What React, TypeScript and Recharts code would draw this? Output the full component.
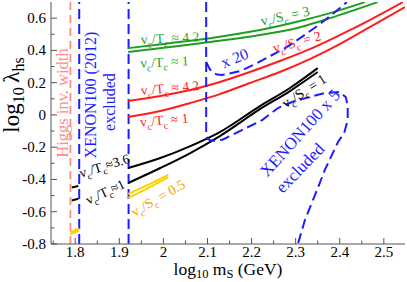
import React from 'react';
import { LineChart, Line, XAxis, YAxis, ReferenceLine, ReferenceDot, Label } from 'recharts';

type Pt = { x: number; y: number };
const pts = (a: number[][]): Pt[] => a.map(([x, y]) => ({ x, y }));

// axis ticks
const xMajor = [1.8, 1.9, 2.0, 2.1, 2.2, 2.3, 2.4, 2.5];
const xMinor = [1.75, 1.85, 1.95, 2.05, 2.15, 2.25, 2.35, 2.45];
const yMajor = [-0.8, -0.6, -0.4, -0.2, 0, 0.2, 0.4, 0.6];
const yMinor = [-0.7, -0.5, -0.3, -0.1, 0.1, 0.3, 0.5];

// vertical bounds
const higgsWidthX = 1.789;
const xenon2012X = [1.809, 1.921];

// v_c/T_c curves (green: v_c/S_c = 3, red: 2, black: 1, yellow: 0.5)
const greenTc42 = pts([[1.92, 0.414], [2.015, 0.445], [2.106, 0.476], [2.219, 0.526], [2.31, 0.582], [2.378, 0.631], [2.457, 0.699]]);
const greenTc1 = pts([[1.92, 0.39], [2.015, 0.421], [2.106, 0.452], [2.219, 0.495], [2.31, 0.544], [2.378, 0.6], [2.486, 0.699]]);
const redTc42 = pts([[1.92, 0.086], [1.993, 0.117], [2.061, 0.154], [2.128, 0.204], [2.196, 0.266], [2.264, 0.334], [2.332, 0.408], [2.4, 0.495], [2.468, 0.588], [2.543, 0.699]]);
const redTc1 = pts([[1.92, -0.013], [1.993, 0.024], [2.061, 0.074], [2.128, 0.129], [2.196, 0.198], [2.264, 0.266], [2.332, 0.346], [2.4, 0.439], [2.468, 0.544], [2.548, 0.668]]);
const blackTc36 = pts([[1.92, -0.329], [1.993, -0.267], [2.061, -0.193], [2.128, -0.106], [2.219, 0.055], [2.287, 0.167], [2.35, 0.29]]);
const blackTc1 = pts([[1.92, -0.422], [1.993, -0.329], [2.061, -0.236], [2.128, -0.131], [2.219, 0.036], [2.287, 0.148], [2.35, 0.266]]);
const blackTc36Left = pts([[1.792, -0.45], [1.807, -0.44]]);
const blackTc1Left = pts([[1.792, -0.53], [1.807, -0.52]]);
const yellowUpper = pts([[1.92, -0.49], [1.965, -0.434], [2.011, -0.372]]);
const yellowLower = pts([[1.92, -0.515], [1.965, -0.453], [2.011, -0.385]]);
const yellowLeftA = pts([[1.789, -0.74], [1.809, -0.715]]);
const yellowLeftB = pts([[1.789, -0.727], [1.809, -0.703]]);

// XENON100 x 5 and x 20 contours
const xenonX5 = pts([[2.097, 0.7], [2.097, -0.125], [2.1, -0.148], [2.108, -0.158], [2.12, -0.16], [2.135, -0.152], [2.178, -0.094], [2.224, -0.032], [2.26, 0.043], [2.296, 0.085], [2.332, 0.111], [2.366, 0.136], [2.4, 0.142], [2.414, 0.11], [2.418, 0.05], [2.418, -0.032], [2.41, -0.112], [2.396, -0.168], [2.366, -0.342], [2.344, -0.496], [2.321, -0.651], [2.305, -0.8]]);
const xenonX20 = pts([[2.097, 0.328], [2.104, 0.29], [2.11, 0.266], [2.122, 0.25], [2.133, 0.247], [2.174, 0.272], [2.208, 0.315], [2.242, 0.365], [2.276, 0.414], [2.31, 0.476], [2.355, 0.563], [2.389, 0.637], [2.416, 0.699]]);

const serif = 'Liberation Serif, Times New Roman, serif';
const axisColor = '#555';
const GREEN = '#1f9f1f';
const RED = '#ff1c1c';
const BLUE = '#1c1cff';
const PINK = '#ff8a8a';
const YELLOW = '#ffd000';
const ORANGE = '#f5a300';

const solid = [
  { id: 'g1', data: greenTc42, color: GREEN },
  { id: 'g2', data: greenTc1, color: GREEN },
  { id: 'r1', data: redTc42, color: RED },
  { id: 'r2', data: redTc1, color: RED },
  { id: 'b1', data: blackTc36, color: '#000' },
  { id: 'b2', data: blackTc1, color: '#000' },
  { id: 'b3', data: blackTc36Left, color: '#000' },
  { id: 'b4', data: blackTc1Left, color: '#000' },
  { id: 'y1', data: yellowUpper, color: YELLOW },
  { id: 'y2', data: yellowLower, color: YELLOW },
  { id: 'y3', data: yellowLeftA, color: YELLOW },
  { id: 'y4', data: yellowLeftB, color: YELLOW },
];

type Note = { x: number; y: number; rot: number; color: string; size: number; text?: string; den?: string; rel?: string };
const notes: Note[] = [
  { x: 1.7705, y: 0.074, rot: -90, color: PINK, size: 16.5, text: 'Higgs inv. width' },
  { x: 1.836, y: 0.123, rot: -90, color: BLUE, size: 16, text: 'XENON100 (2012)' },
  { x: 1.879, y: 0.08, rot: -90, color: BLUE, size: 16, text: 'excluded' },
  { x: 2.015, y: 0.476, rot: -3, color: GREEN, size: 13.5, den: 'T', rel: ' \u2248 4.2' },
  { x: 2.002, y: 0.328, rot: -3, color: GREEN, size: 13.5, den: 'T', rel: ' \u2248 1' },
  { x: 2.015, y: 0.167, rot: -5, color: RED, size: 13.5, den: 'T', rel: ' \u2248 4.2' },
  { x: 2.002, y: -0.032, rot: -5, color: RED, size: 13.5, den: 'T', rel: ' \u2248 1' },
  { x: 2.162, y: 0.352, rot: -22, color: BLUE, size: 16, text: 'x 20' },
  { x: 2.276, y: 0.613, rot: -12, color: GREEN, size: 14, den: 'S', rel: ' = 3' },
  { x: 2.303, y: 0.452, rot: -15, color: RED, size: 14, den: 'S', rel: ' = 2' },
  { x: 2.319, y: 0.148, rot: -33, color: '#000', size: 14, den: 'S', rel: ' = 1' },
  { x: 2.31, y: -0.112, rot: -48, color: BLUE, size: 17, text: 'XENON100 x 5' },
  { x: 2.31, y: -0.329, rot: -46, color: BLUE, size: 17, text: 'excluded' },
  { x: 1.866, y: -0.316, rot: -17, color: '#000', size: 13.5, den: 'T', rel: '\u22483.6' },
  { x: 1.868, y: -0.478, rot: -25, color: '#000', size: 13.5, den: 'T', rel: '\u22481' },
  { x: 1.988, y: -0.515, rot: -30, color: ORANGE, size: 14, den: 'S', rel: ' = 0.5' },
];

const renderNote = (n: Note, cx: number, cy: number) => {
  const sub = n.size * 0.72;
  const d = n.size * 0.3;
  return (
    <text
      x={cx}
      y={cy + n.size * 0.33}
      transform={`rotate(${n.rot}, ${cx}, ${cy})`}
      textAnchor="middle"
      fill={n.color}
      fontSize={n.size}
      style={{ fontFamily: serif }}
    >
      {n.text ? (
        n.text
      ) : (
        <>
          v<tspan dy={d} fontSize={sub}>c</tspan>
          <tspan dy={-d}>/{n.den}</tspan>
          <tspan dy={d} fontSize={sub}>c</tspan>
          <tspan dy={-d}>{n.rel}</tspan>
        </>
      )}
    </text>
  );
};

const isMajor = (v: number, list: number[]) => list.some((m) => Math.abs(m - v) < 1e-6);
const fmt = (v: number) => (Math.abs(v) < 1e-9 ? '0' : Math.abs(v - 2) < 1e-9 ? '2' : v.toFixed(1));

const BottomTick = (props: any) => {
  const { x, y, payload } = props;
  const major = isMajor(payload.value, xMajor);
  return (
    <g>
      <line x1={x} x2={x} y1={y} y2={y - (major ? 6 : 3.5)} stroke={axisColor} />
      {major && (
        <text x={x} y={y + 12.5} textAnchor="middle" fontSize={15} style={{ fontFamily: serif }} fill="#000">
          {fmt(payload.value)}
        </text>
      )}
    </g>
  );
};

const TopTick = (props: any) => {
  const { x, y, payload } = props;
  const major = isMajor(payload.value, xMajor);
  return <line x1={x} x2={x} y1={y} y2={y + (major ? 6 : 3.5)} stroke={axisColor} />;
};

const LeftTick = (props: any) => {
  const { x, y, payload } = props;
  const major = isMajor(payload.value, yMajor);
  return (
    <g>
      <line x1={x} x2={x + (major ? 6 : 3.5)} y1={y} y2={y} stroke={axisColor} />
      {major && (
        <text x={x - 5} y={y + 5} textAnchor="end" fontSize={15} style={{ fontFamily: serif }} fill="#000">
          {fmt(payload.value)}
        </text>
      )}
    </g>
  );
};

const RightTick = (props: any) => {
  const { x, y, payload } = props;
  const major = isMajor(payload.value, yMajor);
  return <line x1={x} x2={x - (major ? 6 : 3.5)} y1={y} y2={y} stroke={axisColor} />;
};

const YTitle = (props: any) => {
  const vb = props.viewBox || { x: 0, y: 2, width: 51, height: 242 };
  const cx = vb.x + 12;
  const cy = vb.y + vb.height / 2 - 28;
  return (
    <text
      x={cx}
      y={cy + 7}
      transform={`rotate(-90, ${cx}, ${cy})`}
      textAnchor="middle"
      fontSize={23}
      style={{ fontFamily: serif }}
      fill="#000"
    >
      log<tspan dy={5} fontSize={16}>10</tspan>
      <tspan dy={-5}>{'\u2009\u03bb'}</tspan>
      <tspan dy={5} fontSize={16}>hs</tspan>
    </text>
  );
};

const XTitle = (props: any) => {
  const vb = props.viewBox || { x: 51, y: 244, width: 354, height: 38 };
  const cx = vb.x + vb.width / 2;
  return (
    <text x={cx} y={vb.y + 31} textAnchor="middle" fontSize={17.5} style={{ fontFamily: serif }} fill="#000">
      log<tspan dy={3} fontSize={12.5}>10</tspan>
      <tspan dy={-3}> m</tspan>
      <tspan dy={3} fontSize={12.5}>S</tspan>
      <tspan dy={-3}> (GeV)</tspan>
    </text>
  );
};

const xTicks = [...xMinor, ...xMajor].sort((a, b) => a - b);
const yTicks = [...yMinor, ...yMajor].sort((a, b) => a - b);
const xDomain = [1.745, 2.548];
const yDomain = [-0.8, 0.7];

export default function App() {
  return (
    <div style={{ position: 'absolute', left: 0, top: 0, background: '#fff', fontFamily: serif }}>
      <LineChart width={407} height={282} margin={{ top: 2, right: 2, left: 0, bottom: 0 }}>
        <XAxis
          xAxisId={0}
          type="number"
          dataKey="x"
          domain={xDomain}
          allowDataOverflow
          ticks={xTicks}
          interval={0}
          tick={<BottomTick />}
          tickSize={0}
          tickMargin={0}
          tickLine={false}
          axisLine={{ stroke: axisColor }}
          height={38}
        >
          <Label content={<XTitle />} />
        </XAxis>
        <XAxis
          xAxisId="top"
          orientation="top"
          type="number"
          dataKey="x"
          domain={xDomain}
          allowDataOverflow
          ticks={xTicks}
          interval={0}
          tick={<TopTick />}
          tickSize={0}
          tickMargin={0}
          tickLine={false}
          axisLine={{ stroke: axisColor }}
          height={0}
        />
        <YAxis
          yAxisId={0}
          type="number"
          domain={yDomain}
          allowDataOverflow
          ticks={yTicks}
          interval={0}
          tick={<LeftTick />}
          tickSize={0}
          tickMargin={0}
          tickLine={false}
          axisLine={{ stroke: axisColor }}
          width={51}
        >
          <Label content={<YTitle />} />
        </YAxis>
        <YAxis
          yAxisId="right"
          orientation="right"
          type="number"
          domain={yDomain}
          allowDataOverflow
          ticks={yTicks}
          interval={0}
          tick={<RightTick />}
          tickSize={0}
          tickMargin={0}
          tickLine={false}
          axisLine={{ stroke: axisColor }}
          width={0}
        />

        <ReferenceLine x={higgsWidthX} stroke={PINK} strokeWidth={1.8} strokeDasharray="8 5" />
        {xenon2012X.map((v) => (
          <ReferenceLine key={v} x={v} stroke={BLUE} strokeWidth={2} strokeDasharray="10 5" />
        ))}

        {solid.map((s) => (
          <Line
            key={s.id}
            data={s.data}
            dataKey="y"
            type={s.data.length > 2 ? 'monotone' : 'linear'}
            stroke={s.color}
            strokeWidth={2}
            dot={false}
            activeDot={false}
            isAnimationActive={false}
          />
        ))}
        <Line data={xenonX5} dataKey="y" type="linear" stroke={BLUE} strokeWidth={2} strokeDasharray="10 5" dot={false} activeDot={false} isAnimationActive={false} />
        <Line data={xenonX20} dataKey="y" type="linear" stroke={BLUE} strokeWidth={2} strokeDasharray="10 5" dot={false} activeDot={false} isAnimationActive={false} />

        {notes.map((n, i) => (
          <ReferenceDot
            key={i}
            x={n.x}
            y={n.y}
            r={1}
            ifOverflow="visible"
            shape={(p: any) => renderNote(n, p.cx, p.cy)}
          />
        ))}
      </LineChart>
    </div>
  );
}
